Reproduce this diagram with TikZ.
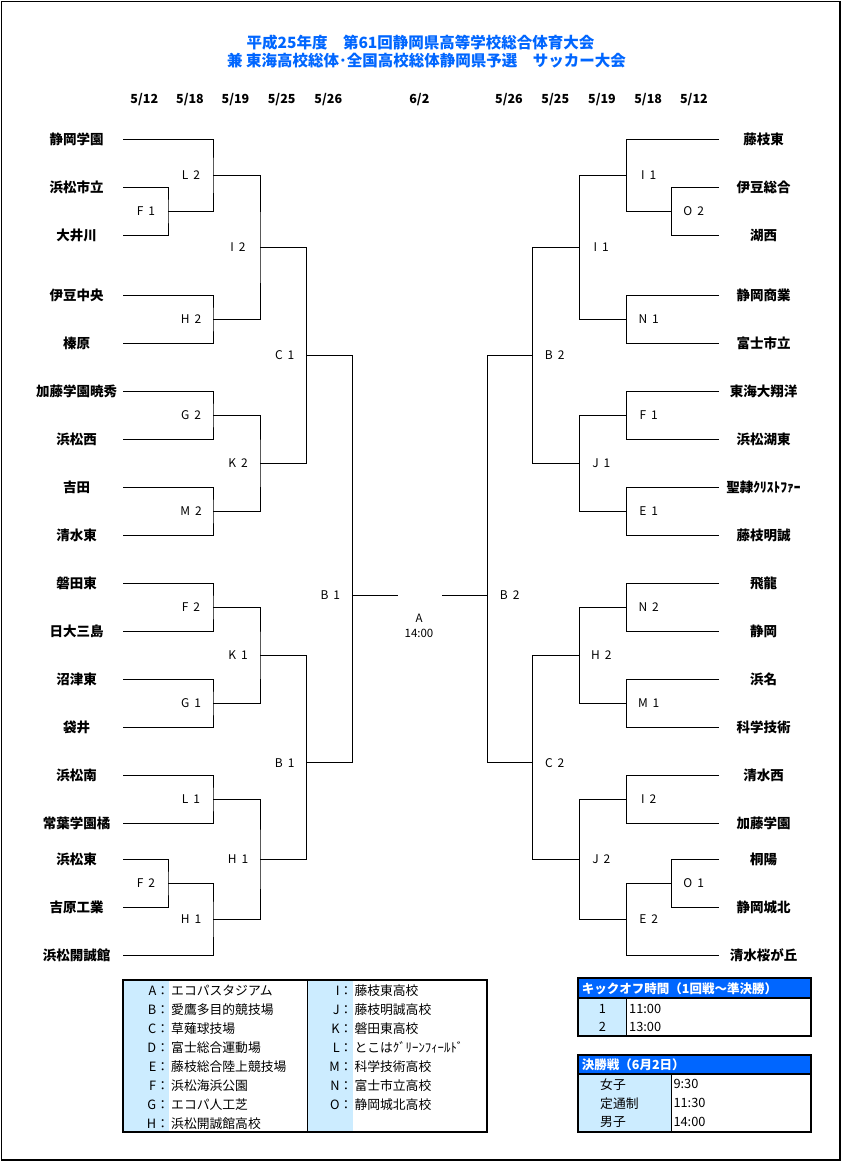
\documentclass[tikz,border=0pt]{standalone}
\usepackage{fontspec}
\setmainfont{Noto Sans CJK JP}
\usepackage{tikz}
\definecolor{titleblue}{RGB}{0,102,255}
\definecolor{paleblue}{RGB}{204,236,255}

\begin{document}
\begin{tikzpicture}[x=1pt,y=-1pt]
            \tikzstyle{bracket}=[line width=0.9pt]
            \tikzstyle{team}=[font=\fontsize{13.5}{15}\selectfont\bfseries,inner sep=0pt]
            \tikzstyle{lteam}=[team,anchor=east,minimum width=92.6pt]
            \tikzstyle{rteam}=[team,anchor=west,minimum width=88.6pt]
            \tikzstyle{gamelabel}=[font={\fontsize{12}{13}\selectfont\spaceskip=5pt},inner sep=0pt]
            \tikzstyle{finallabel}=[font=\fontsize{11.5}{13}\selectfont,inner sep=0pt]
            \tikzstyle{daylabel}=[font=\fontsize{12.5}{14}\selectfont\bfseries,inner sep=0pt]
            \tikzstyle{legtext}=[font=\fontsize{12.8}{14}\selectfont,inner sep=0pt]
            \tikzstyle{boxhead}=[font=\fontsize{12.5}{14}\selectfont\bfseries,text=white,anchor=west,inner sep=0pt]
            \useasboundingbox (0,0) rectangle (842,1162);
            \draw[line width=1.5pt] (1.5,1.5) rectangle (840,1160);
            \node[font=\fontsize{15.5}{17}\selectfont\bfseries,text=titleblue] (title1) at (420.5,42.3) {平成25年度　第61回静岡県高等学校総合体育大会};
            \node[font=\fontsize{15.5}{17}\selectfont\bfseries,text=titleblue] (title2) at (426.4,60.7) {兼 東海高校総体･全国高校総体静岡県予選　サッカー大会};
            \foreach \x/\d [count=\i] in {144.3/{5/12},190/{5/18},235.5/{5/19},281.7/{5/25},328.3/{5/26},419.4/{6/2},509/{5/26},555.3/{5/25},602/{5/19},648.2/{5/18},693.9/{5/12}}
                \node[daylabel] (day\i) at (\x,100) {\d};
            \foreach \y/\name [count=\i] in {139.3/静岡学園,187.3/浜松市立,235.3/大井川,295.3/伊豆中央,343.3/榛原,391.3/加藤学園暁秀,439.3/浜松西,487.3/吉田,535.3/清水東,583.3/磐田東,631.3/日大三島,679.3/沼津東,727.3/袋井,775.3/浜松南,823.3/常葉学園橘,859.3/浜松東,907.3/吉原工業,955.3/浜松開誠館}
                \node[lteam] (lt\i) at (123,\y) {\name};
            \foreach \y/\name [count=\i] in {139.3/藤枝東,187.3/伊豆総合,235.3/湖西,295.3/静岡商業,343.3/富士市立,391.3/東海大翔洋,439.3/浜松湖東,487.3/聖隷ｸﾘｽﾄﾌｧｰ,535.3/藤枝明誠,583.3/飛龍,631.3/静岡,679.3/浜名,727.3/科学技術,775.3/清水西,823.3/加藤学園,859.3/桐陽,907.3/静岡城北,955.3/清水桜が丘}
                \node[rteam] (rt\i) at (719,\y) {\name};
            \foreach \nm/\px/\py/\lab/\up/\dn in {lF1/168/211.3/F 1/lt2.east/lt3.east,
                    lL2/213/175.3/L 2/lt1.east/lF1,
                    lH2/213/319.3/H 2/lt4.east/lt5.east,
                    lI2/260/247.3/I 2/lL2/lH2,
                    lG2/213/415.3/G 2/lt6.east/lt7.east,
                    lM2/213/511.3/M 2/lt8.east/lt9.east,
                    lK2/260/463.3/K 2/lG2/lM2,
                    lC1/306.7/355.3/C 1/lI2/lK2,
                    lF2/213/607.3/F 2/lt10.east/lt11.east,
                    lG1/213/703.3/G 1/lt12.east/lt13.east,
                    lK1/260/655.3/K 1/lF2/lG1,
                    lL1/213/799.3/L 1/lt14.east/lt15.east,
                    lF2b/168/883.3/F 2/lt16.east/lt17.east,
                    lH1b/213/919.3/H 1/lF2b/lt18.east,
                    lH1/260/859.3/H 1/lL1/lH1b,
                    lB1b/306.7/762.7/B 1/lK1/lH1,
                    lB1/352.3/595.3/B 1/lC1/lB1b}
            {
                \coordinate (\nm) at (\px,\py);
                \draw[bracket] (\up) -| (\nm) |- (\dn);
                \node[gamelabel] (\nm-t) at (\px-22,\py) {\lab};
            }
            \foreach \nm/\px/\py/\lab/\up/\dn in {rO2/671.7/211.3/O 2/rt2.west/rt3.west,
                    rI1b/626.7/175.3/I 1/rt1.west/rO2,
                    rN1/626.7/319.3/N 1/rt4.west/rt5.west,
                    rI1/579.3/247.3/I 1/rI1b/rN1,
                    rF1/626.7/415.3/F 1/rt6.west/rt7.west,
                    rE1/626.7/511.3/E 1/rt8.west/rt9.west,
                    rJ1/579.3/463.3/J 1/rF1/rE1,
                    rB2b/532.7/355.3/B 2/rI1/rJ1,
                    rN2/626.7/607.3/N 2/rt10.west/rt11.west,
                    rM1/626.7/703.3/M 1/rt12.west/rt13.west,
                    rH2/579.3/655.3/H 2/rN2/rM1,
                    rI2/626.7/799.3/I 2/rt14.west/rt15.west,
                    rO1/671.7/883.3/O 1/rt16.west/rt17.west,
                    rE2/626.7/919.3/E 2/rO1/rt18.west,
                    rJ2/579.3/859.3/J 2/rI2/rE2,
                    rC2/532.7/762.7/C 2/rH2/rJ2,
                    rB2/487.7/595.3/B 2/rB2b/rC2}
            {
                \coordinate (\nm) at (\px,\py);
                \draw[bracket] (\up) -| (\nm) |- (\dn);
                \node[gamelabel] (\nm-t) at (\px+22,\py) {\lab};
            }
            \coordinate (finL) at (397.7,595.3);
            \coordinate (finR) at (441.7,595.3);
            \draw[bracket] (lB1) -- (finL);
            \draw[bracket] (rB2) -- (finR);
            \node[finallabel] (final) at (419,618.3) {A};
            \node[finallabel] (finaltime) at (419,633.3) {14:00};
            \fill[paleblue] (122.7,980) rectangle (169.3,1131.7);
            \fill[paleblue] (307.7,980) rectangle (352.7,1131.7);
            \draw[bracket] (307.7,980) -- (307.7,1131.7);
            \draw[line width=2pt] (122.7,980) rectangle (487.3,1131.7);
            \foreach \k/\v [count=\i from 0] in {A/エコパスタジアム,B/愛鷹多目的競技場,C/草薙球技場,D/富士総合運動場,E/藤枝総合陸上競技場,F/浜松海浜公園,G/エコパ人工芝,H/浜松開誠館高校}
            {
                \node[legtext,anchor=east] (key\k) at (169.3,990.7+19*\i) {\k：};
                \node[legtext,anchor=west] (place\k) at (171,990.7+19*\i) {\v};
            }
            \foreach \k/\v [count=\i from 0] in {I/藤枝東高校,J/藤枝明誠高校,K/磐田東高校,L/とこはｸﾞﾘｰﾝﾌｨｰﾙﾄﾞ,M/科学技術高校,N/富士市立高校,O/静岡城北高校}
            {
                \node[legtext,anchor=east] (key\k) at (352.7,990.7+19*\i) {\k：};
                \node[legtext,anchor=west] (place\k) at (354.3,990.7+19*\i) {\v};
            }
            \fill[paleblue] (578.3,998.3) rectangle (626,1036);
            \fill[titleblue] (578.3,978.3) rectangle (810.7,998.3);
            \draw[bracket] (626,998.3) -- (626,1036);
            \draw[line width=2pt] (578.3,978.3) rectangle (810.7,1036);
            \draw[line width=2pt] (578.3,998.3) -- (810.7,998.3);
            \node[boxhead] (kickhead) at (581.7,989) {キックオフ時間（1回戦～準決勝）};
            \node[legtext] (kick1) at (602.3,1009) {1};
            \node[legtext,anchor=west] (kicktime1) at (629,1009) {11:00};
            \node[legtext] (kick2) at (602.3,1027.3) {2};
            \node[legtext,anchor=west] (kicktime2) at (629,1027.3) {13:00};
            \fill[paleblue] (578.3,1074) rectangle (671,1131.7);
            \fill[titleblue] (578.3,1055) rectangle (810.7,1074);
            \draw[bracket] (671,1074) -- (671,1131.7);
            \draw[line width=2pt] (578.3,1055) rectangle (810.7,1131.7);
            \draw[line width=2pt] (578.3,1074) -- (810.7,1074);
            \node[boxhead] (finalhead) at (581.7,1065) {決勝戦（6月2日）};
            \foreach \who/\tm [count=\i from 0] in {女子/9:30,定通制/11:30,男子/14:00}
            {
                \node[legtext,anchor=west] (div\i) at (600,1084.3+19*\i) {\who};
                \node[legtext,anchor=west] (divtime\i) at (673.3,1084.3+19*\i) {\tm};
            }
        \end{tikzpicture}
\end{document}
